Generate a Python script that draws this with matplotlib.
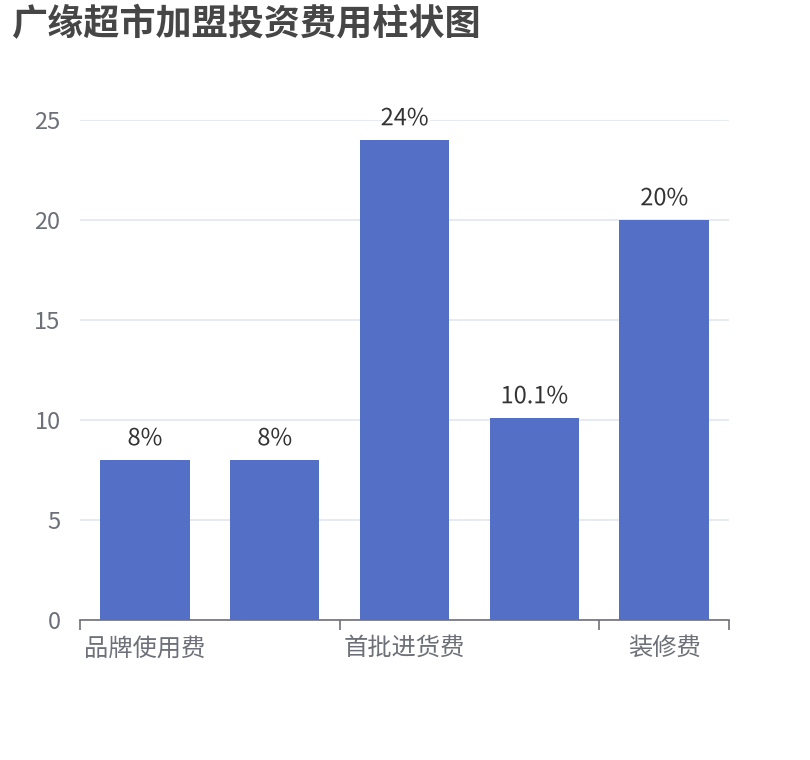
import matplotlib
matplotlib.use("Agg")
import matplotlib.pyplot as plt
import matplotlib.patheffects as pe

plt.rcParams['font.family'] = ['Noto Sans CJK SC', 'DejaVu Sans']

title = "广缘超市加盟投资费用柱状图"
categories = ["品牌使用费", "加盟费", "首批进货费", "保证金", "装修费"]
values = [8, 8, 24, 10.1, 20]
labels = ["8%", "8%", "24%", "10.1%", "20%"]
shown_labels = [0, 2, 4]
y_ticks = [0, 5, 10, 15, 20, 25]

W, H = 810, 760
fig = plt.figure(figsize=(W / 100, H / 100), dpi=100)
left, right, top, bottom = 80, 729, 120, 620
ax = fig.add_axes([left / W, 1 - bottom / H, (right - left) / W, (bottom - top) / H])

x = list(range(len(categories)))
ax.bar(x, values, width=0.69, color="#5470C6", zorder=3)
ax.set_xlim(-0.5, len(categories) - 0.5)
ax.set_ylim(0, 25)

for xi, v, lab in zip(x, values, labels):
    ax.annotate(lab, (xi, v), xytext=(0, 7), textcoords="offset points",
                ha="center", va="bottom", fontsize=17, color="#333333", zorder=5,
                path_effects=[pe.withStroke(linewidth=3, foreground="white")])

ax.set_yticks(y_ticks)
ax.set_yticklabels([str(t) for t in y_ticks], fontsize=17, color="#6E7079")
ax.tick_params(axis="y", length=0, pad=14)
ax.grid(axis="y", color="#E0E6F1", linewidth=1.2, zorder=0)

# x ticks at category boundaries (interval 2) plus the end
ax.set_xticks([-0.5, 1.5, 3.5, 4.5])
ax.set_xticklabels([])
ax.tick_params(axis="x", length=7, width=1.2, color="#6E7079", direction="out")
for i in shown_labels:
    ax.annotate(categories[i], (i, 0), xycoords=("data", "axes fraction"), xytext=(0, -11),
                textcoords="offset points", ha="center", va="top", fontsize=17.5, color="#6E7079")

for s in ["top", "right", "left"]:
    ax.spines[s].set_visible(False)
ax.spines["bottom"].set_color("#6E7079")
ax.spines["bottom"].set_linewidth(1.2)
ax.spines["bottom"].set_zorder(4)

fig.text(11 / W, 1 - 25 / H, title, fontsize=26, fontweight="bold", color="#464646",
         ha="left", va="center")

fig.savefig("out.png", dpi=100)
